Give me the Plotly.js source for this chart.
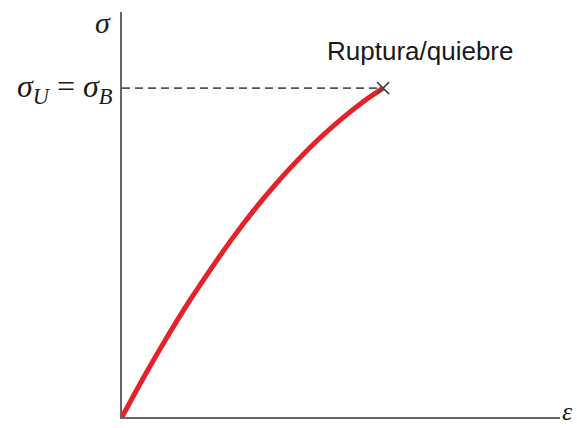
<!DOCTYPE html>
<html>
<head>
<meta charset="utf-8">
<script src="https://cdn.plot.ly/plotly-3.0.1.min.js"></script>
<style>
  html, body { margin: 0; padding: 0; background: #fff; }
  #chart { width: 577px; height: 428px; }
</style>
</head>
<body>
<div id="chart"></div>
<script>
// Stress-strain curve of a brittle material (arbitrary units)
var strain = [0, 0.05, 0.10, 0.15, 0.20, 0.25, 0.30, 0.35, 0.40, 0.45, 0.50, 0.55, 0.596];
var stress = [0, 0.099, 0.192, 0.280, 0.361, 0.438, 0.509, 0.574, 0.633, 0.687, 0.735, 0.778, 0.812];

// Fracture point: last point of the curve
var strainBreak = [0.596];
var stressBreak = [0.812];

var breakLabel = 'Ruptura/quiebre';
var stressLabel = '<i>σ</i><sub><i>U</i></sub> = <i>σ</i><sub><i>B</i></sub>';
var yAxisLabel = '<i>σ</i>';
var xAxisLabel = '<i>ε</i>';

var serif = '"Liberation Serif", "DejaVu Serif", serif';

var traces = [
  {
    // dashed guide from the stress axis to the fracture point
    x: [0, strainBreak[0]],
    y: [stressBreak[0], stressBreak[0]],
    mode: 'lines',
    line: { color: '#555', width: 1.6, dash: '8px,5px' },
    cliponaxis: false,
    hoverinfo: 'skip'
  },
  {
    x: strain,
    y: stress,
    mode: 'lines',
    line: { color: '#e3222a', width: 5, shape: 'spline', smoothing: 1 },
    cliponaxis: false
  },
  {
    x: strainBreak,
    y: stressBreak,
    mode: 'markers',
    marker: { symbol: 'x-thin', size: 12, line: { color: '#444', width: 1.6 } },
    cliponaxis: false
  }
];

var layout = {
  width: 577,
  height: 428,
  margin: { l: 122, r: 17, t: 12, b: 11 },
  paper_bgcolor: '#fff',
  plot_bgcolor: '#fff',
  showlegend: false,
  xaxis: {
    range: [0, 1], showline: true, linecolor: '#666', linewidth: 2,
    showgrid: false, zeroline: false, showticklabels: false, ticks: ''
  },
  yaxis: {
    range: [0, 1], showline: true, linecolor: '#666', linewidth: 2,
    showgrid: false, zeroline: false, showticklabels: false, ticks: ''
  },
  annotations: [
    {
      text: breakLabel, xref: 'paper', yref: 'paper', x: 0.68, y: 0.903,
      xanchor: 'center', yanchor: 'middle', showarrow: false,
      font: { family: '"Liberation Sans", Arial, sans-serif', size: 26, color: '#1a1a1a' }
    },
    {
      text: stressLabel, xref: 'paper', yref: 'y', x: -0.016, y: stressBreak[0],
      xanchor: 'right', yanchor: 'middle', showarrow: false,
      font: { family: serif, size: 32, color: '#1a1a1a' }
    },
    {
      text: yAxisLabel, xref: 'paper', yref: 'paper', x: -0.043, y: 0.975,
      xanchor: 'center', yanchor: 'middle', showarrow: false,
      font: { family: serif, size: 30, color: '#1a1a1a' }
    },
    {
      text: xAxisLabel, xref: 'paper', yref: 'paper', x: 1.032, y: -0.025,
      xanchor: 'right', yanchor: 'bottom', showarrow: false, borderpad: 0,
      font: { family: serif, size: 26, color: '#1a1a1a' }
    }
  ]
};

Plotly.newPlot('chart', traces, layout, { displayModeBar: false, staticPlot: true });
</script>
</body>
</html>
